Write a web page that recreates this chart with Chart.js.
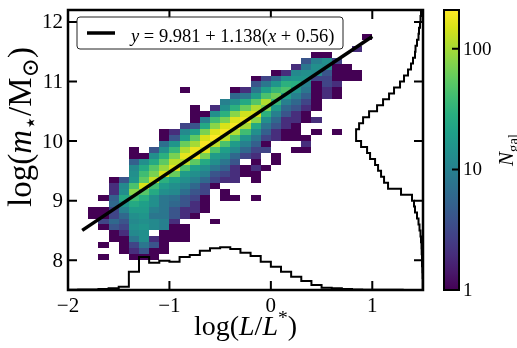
<!DOCTYPE html>
<html>
<head>
<meta charset="utf-8">
<title>Stellar mass vs luminosity</title>
<script src="https://cdn.jsdelivr.net/npm/chart.js@4.4.1/dist/chart.umd.min.js"></script>
<style>
  html, body { margin: 0; padding: 0; background: #fff; }
  canvas { display: block; }
</style>
</head>
<body>
<canvas id="chart" width="517" height="348"></canvas>
<script>
// ---------------------------------------------------------------------------
// Data
// ---------------------------------------------------------------------------
// lower edges of the luminosity bins, log(L/L*)
const lumBins = [-1.9, -1.8, -1.7, -1.6, -1.5, -1.4, -1.3, -1.2, -1.1, -1.0,
                 -0.9, -0.8, -0.7, -0.6, -0.5, -0.4, -0.3, -0.2, -0.1, 0.0,
                  0.1,  0.2,  0.3,  0.4,  0.5,  0.6,  0.7,  0.8,  0.9];
// lower edges of the stellar-mass bins, log(m*/Msun)
const massBins = [7.8, 7.9, 8.0, 8.1, 8.2, 8.3, 8.4, 8.5, 8.6, 8.7,
                  8.8, 8.9, 9.0, 9.1, 9.2, 9.3, 9.4, 9.5, 9.6, 9.7,
                  9.8, 9.9, 10.0, 10.1, 10.2, 10.3, 10.4, 10.5, 10.6, 10.7,
                  10.8, 10.9, 11.0, 11.1, 11.2, 11.3, 11.4, 11.5, 11.6, 11.7, 11.8];
const binWidth = 0.1;

// galaxy counts: one row per luminosity bin, one entry per mass bin
const nGal = [
  [0,0,0,0,0,0,0,0,0,0, 0,0,0,0,0,0,0,0,0,0, 0,0,0,0,0,0,0,0,0,0, 0,0,0,0,0,0,0,0,0,0,0],
  [0,0,0,0,0,0,0,0,0,1, 1,0,0,0,0,0,0,0,0,0, 0,0,0,0,0,0,0,0,0,0, 0,0,0,0,0,0,0,0,0,0,0],
  [0,0,1,0,1,0,0,1,3,1, 1,0,1,0,0,0,0,0,0,0, 0,0,0,0,0,0,0,0,0,0, 0,0,0,0,0,0,0,0,0,0,0],
  [0,0,0,0,0,1,1,4,6,3, 3,6,5,2,2,1,0,0,0,0, 0,0,0,0,0,0,0,0,0,0, 0,0,0,0,0,0,0,0,0,0,0],
  [0,0,0,1,1,1,2,3,4,6, 10,16,25,14,12,4,0,0,0,0, 0,0,0,0,0,0,0,0,0,0, 0,0,0,0,0,0,0,0,0,0,0],
  [0,0,1,2,3,8,12,14,12,14, 18,25,40,80,45,16,14,12,5,1, 1,0,0,0,0,0,0,0,0,0, 0,0,0,0,0,0,0,0,0,0,0],
  [0,0,1,4,8,14,14,16,14,16, 18,20,28,50,150,55,40,25,14,1, 0,0,0,0,0,0,0,0,0,0, 0,0,0,0,0,0,0,0,0,0,0],
  [0,0,1,1,4,2,0,12,12,8, 10,14,14,25,40,130,70,50,25,14, 4,0,0,0,0,0,0,0,0,0, 0,0,0,0,0,0,0,0,0,0,0],
  [0,0,0,1,1,1,1,10,10,8, 8,8,8,14,18,30,150,90,55,30, 14,7,1,1,0,0,0,0,0,0, 0,0,0,0,0,0,0,0,0,0,0],
  [0,0,0,0,0,1,1,1,2,4, 4,6,7,12,14,20,60,160,120,70, 35,16,4,2,0,0,0,0,0,0, 0,0,0,0,0,0,0,0,0,0,0],
  [0,0,0,0,0,1,1,1,0,2, 2,4,4,7,10,14,18,45,120,170, 110,60,20,12,3,0,0,0,0,0, 1,0,0,0,0,0,0,0,0,0,0],
  [0,0,0,0,0,0,0,0,0,1, 2,2,3,4,6,10,14,20,55,190, 180,100,55,20,4,1,1,1,0,0, 0,0,0,0,0,0,0,0,0,0,0],
  [0,0,0,0,0,0,0,0,0,0, 1,1,1,3,3,6,10,14,25,70, 160,200,150,70,25,10,1,0,0,0, 0,0,0,0,0,0,0,0,0,0,0],
  [0,0,0,0,0,0,0,0,1,0, 0,0,0,0,1,3,4,8,14,18, 45,120,210,160,80,40,14,2,0,0, 0,0,0,0,0,0,0,0,0,0,0],
  [0,0,0,0,0,0,0,0,0,0, 0,0,1,1,0,2,3,5,8,14, 20,45,120,200,150,70,30,14,10,0, 0,0,0,0,0,0,0,0,0,0,0],
  [0,0,0,0,0,0,0,0,0,0, 0,0,1,0,0,2,2,2,4,6, 12,18,45,110,200,160,80,30,14,6, 1,0,0,0,0,0,0,0,0,0,0],
  [0,0,0,0,0,0,0,0,0,0, 0,0,0,0,0,0,1,1,0,3, 6,10,16,40,100,180,140,60,25,8, 2,0,0,0,0,0,0,0,0,0,0],
  [0,0,0,0,0,0,0,0,0,0, 0,0,1,0,0,1,1,2,1,2, 3,5,8,14,25,80,150,110,50,18, 8,4,1,0,0,0,0,0,0,0,0],
  [0,0,0,0,0,0,0,0,0,0, 0,0,0,0,0,0,0,1,0,0, 3,1,3,5,8,14,30,70,110,45, 20,8,3,0,0,0,0,0,0,0,0],
  [0,0,0,0,0,0,0,0,0,0, 0,0,0,0,0,0,0,0,1,1, 0,0,2,2,4,6,10,18,35,65, 35,16,6,1,0,0,0,0,0,0,0],
  [0,0,0,0,0,0,0,0,0,0, 0,0,0,0,0,0,0,0,0,0, 0,0,1,1,2,2,4,6,10,20, 45,30,14,2,0,0,0,0,0,0,0],
  [0,0,0,0,0,0,0,0,0,0, 0,0,0,0,0,0,0,0,0,0, 1,0,1,1,1,2,2,4,6,10, 16,28,16,12,2,0,0,0,0,0,0],
  [0,0,0,0,0,0,0,0,0,0, 0,0,0,0,0,0,0,0,0,0, 1,2,1,0,0,1,1,2,3,5, 8,10,16,14,8,4,0,0,0,0,0],
  [0,0,0,0,0,0,0,0,0,0, 0,0,0,0,0,0,0,0,0,0, 0,0,0,1,0,2,0,1,1,1, 1,1,3,12,14,10,1,0,0,0,0],
  [0,0,0,0,0,0,0,0,0,0, 0,0,0,0,0,0,0,0,0,0, 0,0,0,0,0,0,0,0,0,2, 2,3,3,4,12,14,1,0,0,0,0],
  [0,0,0,0,0,0,0,0,0,0, 0,0,0,0,0,0,0,0,0,0, 0,0,0,1,0,0,0,0,0,1, 1,2,1,1,1,3,0,0,0,0,0],
  [0,0,0,0,0,0,0,0,0,0, 0,0,0,0,0,0,0,0,0,0, 0,0,0,0,0,0,0,0,0,0, 0,0,1,1,1,0,0,0,0,0,0],
  [0,0,0,0,0,0,0,0,0,0, 0,0,0,0,0,0,0,0,0,0, 0,0,0,0,0,0,0,0,0,0, 0,0,1,1,0,0,0,2,0,0,0],
  [0,0,0,0,0,0,0,0,0,0, 0,0,0,0,0,0,0,0,0,0, 0,0,0,0,0,0,0,0,0,0, 0,0,0,0,0,0,0,0,0,1,0]
];

// marginal distribution in luminosity (lower bin edges and counts)
const lumHistBins = [-2.0, -1.9, -1.8, -1.7, -1.6, -1.5, -1.4, -1.3, -1.2, -1.1,
                     -1.0, -0.9, -0.8, -0.7, -0.6, -0.5, -0.4, -0.3, -0.2, -0.1,
                      0.0,  0.1,  0.2,  0.3,  0.4,  0.5,  0.6,  0.7,  0.8,  0.9,
                      1.0,  1.1,  1.2,  1.3,  1.4];
const lumHist = [9, 15, 15, 30, 50, 100, 550, 990, 820, 880,
                 850, 990, 1050, 1180, 1250, 1280, 1230, 1120, 1020, 850,
                 700, 550, 400, 270, 150, 70, 50, 30, 15, 9,
                 9, 6, 6, 3, 3];

// marginal distribution in stellar mass (lower bin edges and counts)
const massHistBins = [7.5, 7.6, 7.7, 7.8, 7.9, 8.0, 8.1, 8.2, 8.3, 8.4,
                      8.5, 8.6, 8.7, 8.8, 8.9, 9.0, 9.1, 9.2, 9.3, 9.4,
                      9.5, 9.6, 9.7, 9.8, 9.9, 10.0, 10.1, 10.2, 10.3, 10.4,
                      10.5, 10.6, 10.7, 10.8, 10.9, 11.0, 11.1, 11.2, 11.3, 11.4,
                      11.5, 11.6, 11.7, 11.8, 11.9, 12.0, 12.1];
const massHist = [9, 9, 15, 21, 30, 30, 40, 45, 60, 75,
                  105, 135, 180, 240, 270, 330, 660, 1050, 1170, 1260,
                  1350, 1440, 1590, 1680, 1860, 2010, 2010, 1920, 1800, 1620,
                  1380, 1200, 1020, 870, 690, 570, 450, 360, 300, 240,
                  225, 180, 135, 120, 90, 75, 60];

// linear fit  y = A + B (x + X0)
const fitA = 9.981, fitB = 1.138, fitX0 = 0.56;
const fitRange = [-1.86, 1.0];

const xTicks = [-2, -1, 0, 1];
const yTicks = [8, 9, 10, 11, 12];
const cbTicks = [1, 10, 100];
const cbMin = 1, cbMax = 210;

// ---------------------------------------------------------------------------
// Helpers
// ---------------------------------------------------------------------------
const SERIF = '"Liberation Serif", "DejaVu Serif", serif';
const viridis = [[68,1,84],[72,24,106],[71,45,123],[66,64,134],[59,82,139],[51,99,141],
  [44,114,142],[38,130,142],[33,145,140],[31,160,136],[40,174,128],[63,188,115],
  [94,201,98],[132,212,75],[173,220,48],[216,226,25],[253,231,37]];

function cmap(t) {
  t = Math.max(0, Math.min(1, t));
  const p = t * (viridis.length - 1);
  const i = Math.min(Math.floor(p), viridis.length - 2);
  const f = p - i, a = viridis[i], b = viridis[i + 1];
  return `rgb(${Math.round(a[0] + (b[0] - a[0]) * f)},${Math.round(a[1] + (b[1] - a[1]) * f)},${Math.round(a[2] + (b[2] - a[2]) * f)})`;
}

function fontFor(style, size) {
  const italic = style === 'i';
  const small = style === 'sub' || style === 'sup';
  return `${italic ? 'italic ' : ''}${small ? size * 0.7 : size}px ${SERIF}`;
}

// draw a run of [text, style] pieces; style: r roman, i italic, sub, sup
function drawRich(ctx, parts, x, y, size, align) {
  let w = 0;
  const items = parts.map(([t, st]) => {
    ctx.font = fontFor(st, size);
    const item = { t, font: fontFor(st, size), x: w,
      dy: st === 'sub' ? size * 0.22 : st === 'sup' ? -size * 0.38 : 0 };
    w += ctx.measureText(t).width;
    return item;
  });
  const x0 = align === 'center' ? x - w / 2 : align === 'right' ? x - w : x;
  ctx.textAlign = 'left';
  ctx.textBaseline = 'alphabetic';
  items.forEach(it => { ctx.font = it.font; ctx.fillText(it.t, x0 + it.x, y + it.dy); });
  return w;
}

// math-style label: single latin letters in italics
function mathParts(str) {
  return str.split(/([a-zA-Z])/).filter(s => s.length).map(s => [s, /^[a-zA-Z]$/.test(s) ? 'i' : 'r']);
}

const fmt = v => (v < 0 ? '\u2212' : '') + Math.abs(v);

// ---------------------------------------------------------------------------
// Plugins
// ---------------------------------------------------------------------------
const heatmap = {
  id: 'heatmap',
  beforeDatasetsDraw(chart) {
    const { ctx, scales: { x, y, cb } } = chart;
    const c0 = cb.getPixelForValue(cbMin), span = c0 - cb.getPixelForValue(cbMax);
    ctx.save();
    lumBins.forEach((lum, i) => {
      const x0 = Math.round(x.getPixelForValue(lum));
      const x1 = Math.round(x.getPixelForValue(lum + binWidth));
      massBins.forEach((m, j) => {
        const n = nGal[i][j];
        if (!n) return;
        const y0 = Math.round(y.getPixelForValue(m + binWidth));
        const y1 = Math.round(y.getPixelForValue(m));
        ctx.fillStyle = cmap((c0 - cb.getPixelForValue(n)) / span);
        ctx.fillRect(x0, y0, x1 - x0, y1 - y0);
      });
    });
    ctx.restore();
  }
};

const frame = {
  id: 'frame',
  afterDatasetsDraw(chart) {
    const { ctx, chartArea: a, scales: { x, y } } = chart;
    ctx.save();
    ctx.strokeStyle = '#000';
    ctx.lineWidth = 2;
    ctx.beginPath();
    xTicks.forEach(v => {
      const px = x.getPixelForValue(v);
      ctx.moveTo(px, a.bottom); ctx.lineTo(px, a.bottom - 9);
      ctx.moveTo(px, a.top); ctx.lineTo(px, a.top + 9);
    });
    yTicks.forEach(v => {
      const py = y.getPixelForValue(v);
      ctx.moveTo(a.left, py); ctx.lineTo(a.left + 9, py);
      ctx.moveTo(a.right, py); ctx.lineTo(a.right - 9, py);
    });
    ctx.stroke();
    ctx.lineWidth = 2.5;
    ctx.strokeRect(a.left, a.top, a.right - a.left, a.bottom - a.top);

    // tick labels
    ctx.fillStyle = '#000';
    ctx.font = `21px ${SERIF}`;
    ctx.textAlign = 'center';
    ctx.textBaseline = 'alphabetic';
    xTicks.forEach(v => ctx.fillText(fmt(v), x.getPixelForValue(v), a.bottom + 22));
    ctx.textAlign = 'right';
    ctx.textBaseline = 'middle';
    yTicks.forEach(v => ctx.fillText(fmt(v), a.left - 5, y.getPixelForValue(v) + 1));

    // axis titles
    drawRich(ctx, [['log(', 'r'], ['L', 'i'], ['/', 'r'], ['L', 'i'], ['*', 'sup'], [')', 'r']],
      (a.left + a.right) / 2, 335, 28, 'center');
    ctx.save();
    ctx.translate(31, 127);
    ctx.rotate(-Math.PI / 2);
    drawRich(ctx, [['log(', 'r'], ['m', 'i'], ['\u22c6', 'sub'], ['/', 'r'], ['M', 'r'], ['\u2299', 'sub'], [')', 'r']],
      0, 0, 33, 'center');
    ctx.restore();
    ctx.restore();
  }
};

const legendBox = {
  id: 'legendBox',
  afterDraw(chart) {
    const { ctx } = chart;
    const ds = chart.data.datasets[0];
    const bx = 77, by = 17, bw = 266, bh = 32, r = 3;
    ctx.save();
    ctx.beginPath();
    ctx.moveTo(bx + r, by);
    ctx.arcTo(bx + bw, by, bx + bw, by + bh, r);
    ctx.arcTo(bx + bw, by + bh, bx, by + bh, r);
    ctx.arcTo(bx, by + bh, bx, by, r);
    ctx.arcTo(bx, by, bx + bw, by, r);
    ctx.closePath();
    ctx.fillStyle = 'rgba(255,255,255,0.9)';
    ctx.fill();
    ctx.strokeStyle = '#222';
    ctx.lineWidth = 1;
    ctx.stroke();
    ctx.strokeStyle = ds.borderColor;
    ctx.lineWidth = ds.borderWidth;
    ctx.beginPath();
    ctx.moveTo(87, by + bh / 2);
    ctx.lineTo(115, by + bh / 2);
    ctx.stroke();
    ctx.fillStyle = '#000';
    drawRich(ctx, mathParts(ds.label), 131, 41.5, 18.5, 'left');
    ctx.restore();
  }
};

const colorbar = {
  id: 'colorbar',
  afterDraw(chart) {
    const { ctx, scales: { cb } } = chart;
    const left = 444, right = 459;
    const top = cb.getPixelForValue(cbMax), bottom = cb.getPixelForValue(cbMin);
    ctx.save();
    const g = ctx.createLinearGradient(0, bottom, 0, top);
    viridis.forEach((c, i) => g.addColorStop(i / (viridis.length - 1), `rgb(${c[0]},${c[1]},${c[2]})`));
    ctx.fillStyle = g;
    ctx.fillRect(left, top, right - left, bottom - top);
    ctx.strokeStyle = '#000';
    ctx.lineWidth = 2;
    ctx.beginPath();
    cbTicks.forEach(v => {
      const py = cb.getPixelForValue(v);
      ctx.moveTo(right, py); ctx.lineTo(right - 7, py);
    });
    ctx.stroke();
    ctx.strokeRect(left, top, right - left, bottom - top);
    ctx.fillStyle = '#000';
    ctx.font = `19px ${SERIF}`;
    ctx.textAlign = 'left';
    ctx.textBaseline = 'middle';
    cbTicks.forEach(v => ctx.fillText(String(v), right + 4, cb.getPixelForValue(v) + 1));
    ctx.save();
    ctx.translate(513, (top + bottom) / 2);
    ctx.rotate(-Math.PI / 2);
    drawRich(ctx, [['N', 'i'], ['gal', 'sub']], 0, 0, 21, 'center');
    ctx.restore();
    ctx.restore();
  }
};

// ---------------------------------------------------------------------------
// Chart
// ---------------------------------------------------------------------------
const fitLine = fitRange.map(x => ({ x, y: fitA + fitB * (x + fitX0) }));
const lumSteps = lumHistBins.map((b, i) => ({ x: b, y: lumHist[i] }));
lumSteps.push({ x: lumHistBins[lumHistBins.length - 1] + binWidth, y: lumHist[lumHist.length - 1] });
const massSteps = massHistBins.map((b, i) => ({ x: massHist[i], y: b }));
massSteps.push({ x: massHist[massHist.length - 1], y: massHistBins[massHistBins.length - 1] + binWidth });

new Chart(document.getElementById('chart'), {
  type: 'scatter',
  data: {
    datasets: [
      { label: `y = ${fitA} + ${fitB}(x + ${fitX0})`, data: fitLine, showLine: true,
        borderColor: '#000', borderWidth: 3.5, pointRadius: 0, borderCapStyle: 'butt',
        xAxisID: 'x', yAxisID: 'y' },
      { label: 'luminosity distribution', data: lumSteps, showLine: true, stepped: true,
        borderColor: '#000', borderWidth: 2, pointRadius: 0, xAxisID: 'x', yAxisID: 'yb' },
      { label: 'mass distribution', data: massSteps, showLine: true, stepped: 'after',
        borderColor: '#000', borderWidth: 2, pointRadius: 0, xAxisID: 'xr', yAxisID: 'y' }
    ]
  },
  options: {
    responsive: false,
    animation: false,
    devicePixelRatio: 1,
    layout: { padding: { left: 68, right: 94, top: 10, bottom: 58 } },
    plugins: { legend: { display: false }, tooltip: { enabled: false } },
    scales: {
      x: { type: 'linear', min: -2, max: 1.5, display: false },
      y: { type: 'linear', min: 7.5, max: 12.2, display: false },
      yb: { type: 'linear', axis: 'y', min: 0, max: 8400, display: false },
      xr: { type: 'linear', axis: 'x', min: 0, max: 10665, reverse: true, display: false },
      cb: { type: 'logarithmic', axis: 'y', min: cbMin, max: cbMax, display: false }
    }
  },
  plugins: [heatmap, frame, legendBox, colorbar]
});
</script>
</body>
</html>
